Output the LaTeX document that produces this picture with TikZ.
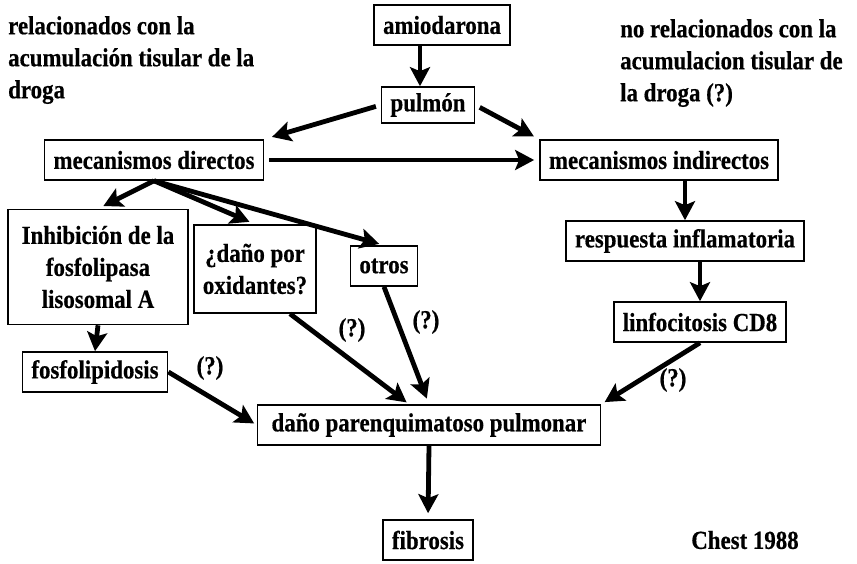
\documentclass[tikz,border=0pt]{standalone}
\usepackage{fontspec}
\setmainfont{Liberation Serif}[FakeStretch = 0.88, BoldFeatures = {FakeBold = 0.5}]
\usepackage{tikz}
\usetikzlibrary{calc}
\usetikzlibrary{arrows.meta}
\usetikzlibrary{positioning}
\tikzset{>=latex}
\tikzstyle{caja} = [draw, line width = 1.6pt, inner xsep = 9pt, inner ysep = 2pt, minimum height = 40pt, align = center]
\tikzstyle{flecha} = [-{Stealth[length = 19pt, width = 20pt, inset = 4pt]}, line width = 4.8pt]
\tikzstyle{nota} = [draw = none, inner sep = 0, align = left, anchor = north west]

\begin{document}
\begin{tikzpicture}[x = 1pt, y = -1pt, font = \bfseries\fontsize{26}{32}\selectfont]
\useasboundingbox (0, 0) rectangle (857, 564);
% notas arriba
\node [nota] (rel) at (8, 16) {relacionados con la\\acumulación tisular de la\\droga};
\node [nota] (norel) at (620, 19) {no relacionados con la\\acumulacion tisular de\\la droga (?)};
% cajas
\node [caja] (amio) at (442, 25) {amiodarona};
\node [caja, minimum height = 36pt] (pul) at (428, 105) {pulmón};
\node [caja] (dir) at (154, 160) {mecanismos directos};
\node [caja] (ind) at (659, 160) {mecanismos indirectos};
\node [caja, minimum width = 180pt, minimum height = 115pt] (inh) at (98, 267) {Inhibición de la\\fosfolipasa\\lisosomal A};
\node [caja, minimum width = 116pt, minimum height = 88pt] (oxi) at (255, 269) {¿daño por\\oxidantes?};
\node [caja] (otr) at (384, 266) {otros};
\node [caja] (resp) at (685, 241) {respuesta inflamatoria};
\node [caja] (linf) at (700, 322) {linfocitosis CD8};
\node [caja] (fos) at (95, 372) {fosfolipidosis};
\node [caja, inner xsep = 14pt] (dpp) at (429, 425) {daño parenquimatoso pulmonar};
\node [caja] (fib) at (428, 540) {fibrosis};
\node [draw = none] (chest) at (745, 540) {Chest 1988};
% flechas
\draw [flecha] ([xshift = -8pt]pul.north |- amio.south) to ([xshift = -8pt]pul.north);
\draw [flecha, shorten <= 5pt, shorten >= 8pt] (pul.west) to (dir.north east);
\draw [flecha, shorten <= 5pt, shorten >= 6pt] (pul.east) to (ind.north west);
\draw [flecha, shorten <= 5pt, shorten >= 5pt] (dir.east) to (ind.west);
\draw [flecha, shorten >= 6pt] (dir.south) to (inh.north);
\draw [flecha, shorten >= 6pt] (dir.south) to (oxi.north);
\draw [flecha, shorten >= 5pt] (dir.south) to (otr.north);
\draw [flecha] (inh.south) to (fos.north);
\draw [flecha, shorten >= 3pt] (fos.east) to (dpp.west);
\draw [flecha, shorten >= 3pt] (oxi.-52) to ([xshift = -20pt]dpp.north);
\draw [flecha, shorten >= 6pt] (otr.south) to (dpp.north);
\draw [flecha] (ind.south -| resp.north) to (resp.north);
\draw [flecha] (resp.south -| linf.north) to (linf.north);
\draw [flecha, shorten >= 4pt] (linf.south) to (dpp.north east);
\draw [flecha, shorten >= 6pt] (dpp.south) to (fib.north);
% signos de duda
\node [draw = none] (q1) at (210, 368) {(?)};
\node [draw = none] (q2) at (352, 330) {(?)};
\node [draw = none] (q3) at (426, 322) {(?)};
\node [draw = none] (q4) at (673, 380) {(?)};
\end{tikzpicture}
\end{document}
